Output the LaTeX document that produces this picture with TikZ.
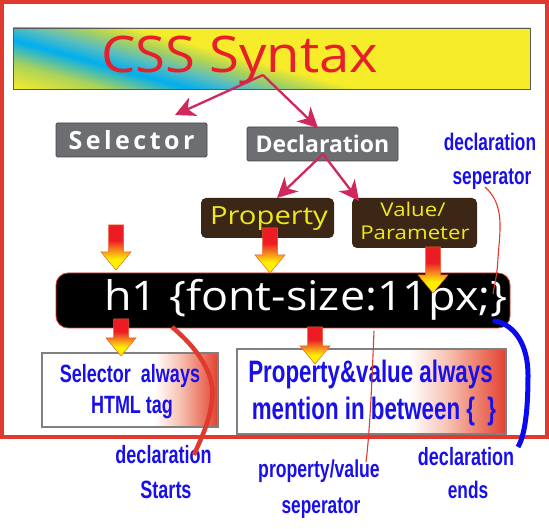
\documentclass[tikz,border=0pt]{standalone}
\usepackage{fontspec}
\setmainfont{Open Sans}
\newfontfamily\titlefont[FakeStretch=1.08]{Open Sans}
\newfontfamily\codefont[FakeStretch=1.1]{Open Sans}
\newfontfamily\yelfont[FakeStretch=1.17]{Open Sans}
\newfontfamily\grayfont{Open Sans}
\newfontfamily\bluefont[FakeStretch=0.72]{Liberation Sans}
\usetikzlibrary{arrows.meta,calc}

\definecolor{frameRed}{RGB}{224,58,46}
\definecolor{titleRed}{RGB}{232,30,42}
\definecolor{titleBorder}{RGB}{90,90,90}
\definecolor{crim}{RGB}{208,40,90}
\definecolor{boxGray}{RGB}{109,110,113}
\definecolor{boxGrayBorder}{RGB}{70,70,72}
\definecolor{brownBox}{RGB}{60,38,22}
\definecolor{yelText}{RGB}{238,232,30}
\definecolor{txtBlue}{RGB}{25,15,232}
\definecolor{lineBlue}{RGB}{10,10,240}
\definecolor{tyellow}{RGB}{247,236,42}
\definecolor{tygreen}{RGB}{170,210,90}
\definecolor{tteal}{RGB}{90,190,190}
\definecolor{tcyan}{RGB}{0,174,239}
\definecolor{fadeRed}{RGB}{225,65,50}
\definecolor{fadeSalmon}{RGB}{236,125,105}
\definecolor{fadePink}{RGB}{247,195,180}
\definecolor{arRed}{RGB}{237,28,36}
\definecolor{arOrange}{RGB}{245,140,30}
\definecolor{arYellow}{RGB}{255,240,0}
\definecolor{arOutline}{RGB}{240,90,40}

\pgfdeclarehorizontalshading{titleband}{100bp}{color(0bp)=(tyellow); color(47.65bp)=(tyellow); color(48.9bp)=(tygreen); color(50bp)=(tcyan); color(50.75bp)=(tteal); color(51.5bp)=(tygreen); color(52.25bp)=(tyellow); color(100bp)=(tyellow)}
\pgfdeclarehorizontalshading{boxfade}{100bp}{color(0bp)=(white); color(57bp)=(white); color(64bp)=(fadePink); color(70bp)=(fadeSalmon); color(75bp)=(fadeRed); color(100bp)=(fadeRed)}
\pgfdeclareverticalshading{blockgrad}{100bp}{color(0bp)=(arYellow); color(37bp)=(arYellow); color(47bp)=(arOrange); color(58bp)=(arRed); color(100bp)=(arRed)}

\newcommand{\blkarrow}[3]{%
  \path[blockarrow] ({#1-7.5},#2) -- ({#1+7.5},#2) -- ({#1+7.5},{#3-18}) -- ({#1+15},{#3-18}) -- (#1,#3) -- ({#1-15},{#3-18}) -- ({#1-7.5},{#3-18}) -- cycle;}

\begin{document}
\begin{tikzpicture}[x=1pt,y=-1pt,
  graybox/.style={draw=boxGrayBorder, fill=boxGray, line width=0.8pt, rounded corners=1.5pt, inner sep=0, text=white},
  brownbox/.style={fill=brownBox, rounded corners=5pt, inner sep=0},
  yeltxt/.style={text=yelText, inner sep=0, anchor=base},
  crimarrow/.style={draw=crim, line width=2.3pt, -{Stealth[length=20pt,width=20pt,inset=6pt]}},
  fadebox/.style={shade, shading=boxfade, draw=gray, line width=1.3pt, inner sep=0},
  bluetxt/.style={text=txtBlue, inner sep=0, anchor=base},
  blockarrow/.style={shade, shading=blockgrad, draw=arOutline, line width=0.5pt},
]
\useasboundingbox (0,0) rectangle (549,529);

% outer frame
\draw[frameRed, line width=4pt] (2,2) rectangle (547,437);

% title bar
\begin{scope}
  \clip (13,28) rectangle (530,89);
  \shade[shading=titleband, shading angle=74.6] (-400,-436) rectangle (600,564);
\end{scope}
\node[draw=titleBorder, line width=0.8pt, minimum width=517pt, minimum height=61pt, inner sep=0] (title) at (271.5,58.5) {};
\node[anchor=base west, text=titleRed, inner sep=0, font=\titlefont\fontsize{50.4}{50}\selectfont] (titletext) at (101,73) {CSS Syntax};

% selector / declaration
\node[graybox, minimum width=151pt, minimum height=34pt, font=\grayfont\bfseries\fontsize{25}{25}\selectfont] (sel) at (131.5,140) {\addfontfeatures{LetterSpace=14}Selector};
\node[graybox, minimum width=151pt, minimum height=34pt, font=\grayfont\bfseries\fontsize{23}{23}\selectfont] (dec) at (322.5,144) {Declaration};

\coordinate (o1) at (263,75);
\coordinate (selTip) at (175,115);
\coordinate (decTip) at (318,128);
\draw[crimarrow] (o1) -- (selTip);
\draw[crimarrow] (o1) -- (decTip);

% property / value
\node[brownbox, minimum width=133pt, minimum height=40pt] (prop) at (267.5,218) {};
\node[yeltxt, font=\yelfont\fontsize{25}{25}\selectfont] (proptext) at (269,225) {Property};
\node[brownbox, minimum width=125pt, minimum height=50pt] (val) at (414.5,223) {};
\node[yeltxt, font=\yelfont\fontsize{19}{19}\selectfont] (valtext1) at (413,217) {Value/};
\node[yeltxt, font=\yelfont\fontsize{19}{19}\selectfont] (valtext2) at (415,240) {Parameter};

\coordinate (o2) at (323,154);
\coordinate (propTip) at (277,198);
\coordinate (valTip) at (359,201);
\draw[crimarrow] (o2) -- (propTip);
\draw[crimarrow] (o2) -- (valTip);

% code bar
\node[draw=frameRed, fill=black, line width=0.8pt, rounded corners=12pt, minimum width=454pt, minimum height=55pt, inner sep=0] (bar) at (283,300.5) {};
\node[anchor=base west, text=white, inner sep=0, font=\codefont\fontsize{40.8}{40}\selectfont] (code) at (104,311) {h1 \{font-size:11px;\}};

% note boxes
\node[fadebox, minimum width=176pt, minimum height=74pt] (selnote) at (130,390) {};
\node[bluetxt, font=\bluefont\bfseries\fontsize{25}{25}\selectfont] (sn1) at (130,382) {Selector\ \ always};
\node[bluetxt, font=\bluefont\bfseries\fontsize{25}{25}\selectfont] (sn2) at (132,413) {HTML tag};

\node[fadebox, minimum width=269pt, minimum height=85pt] (pvnote) at (371.5,391.5) {};
\node[bluetxt, font=\bluefont\bfseries\fontsize{31}{31}\selectfont] (pv1) at (370.5,382) {Property\&value always};
\node[bluetxt, font=\bluefont\bfseries\fontsize{31}{31}\selectfont] (pv2) at (374,419) {mention in between \{\ \ \}};

% block arrows
\blkarrow{116}{225}{270}
\blkarrow{270}{228}{273}
\blkarrow{433}{247}{293}
\blkarrow{121}{319}{356}
\blkarrow{315}{327}{364}

% labels
\node[bluetxt, font=\bluefont\bfseries\fontsize{24}{24}\selectfont] (ds1) at (490,151) {declaration};
\node[bluetxt, font=\bluefont\bfseries\fontsize{24}{24}\selectfont] (ds2) at (492,185) {seperator};
\node[bluetxt, font=\bluefont\bfseries\fontsize{25}{25}\selectfont] (st1) at (163.5,463) {declaration};
\node[bluetxt, font=\bluefont\bfseries\fontsize{25}{25}\selectfont] (st2) at (166,498) {Starts};
\node[bluetxt, font=\bluefont\bfseries\fontsize{24.5}{24.5}\selectfont] (ps1) at (319,477) {property/value};
\node[bluetxt, font=\bluefont\bfseries\fontsize{24}{24}\selectfont] (ps2) at (321,513) {seperator};
\node[bluetxt, font=\bluefont\bfseries\fontsize{25}{25}\selectfont] (de1) at (466,465) {declaration};
\node[bluetxt, font=\bluefont\bfseries\fontsize{24}{24}\selectfont] (de2) at (468,498) {ends};

% pointer curves
\coordinate (semi) at (493,294);
\coordinate (sepStart) at (485,187);
\draw[frameRed, line width=1.1pt] (sepStart) .. controls (505,205) and (500,230) .. (498,258) .. controls (497,278) and (494,286) .. (semi);

\coordinate (colon) at (374,331);
\coordinate (colEnd) at (366,462);
\draw[frameRed, line width=1.1pt] (colon) .. controls (372,380) and (370,430) .. (colEnd);

\coordinate (brace) at (172,327);
\coordinate (braceEnd) at (194,455);
\draw[frameRed, line width=4.5pt] (brace) .. controls (205,355) and (215,380) .. (212,400) .. controls (209,425) and (200,440) .. (braceEnd);

\coordinate (semiLow) at (495,321);
\coordinate (endEnd) at (518,447);
\fill[lineBlue] (semiLow) circle (2.6);
\draw[lineBlue, line width=5pt] (semiLow) .. controls (515,325) and (528,345) .. (528,375) .. controls (528,410) and (525,435) .. (endEnd);
\end{tikzpicture}
\end{document}
